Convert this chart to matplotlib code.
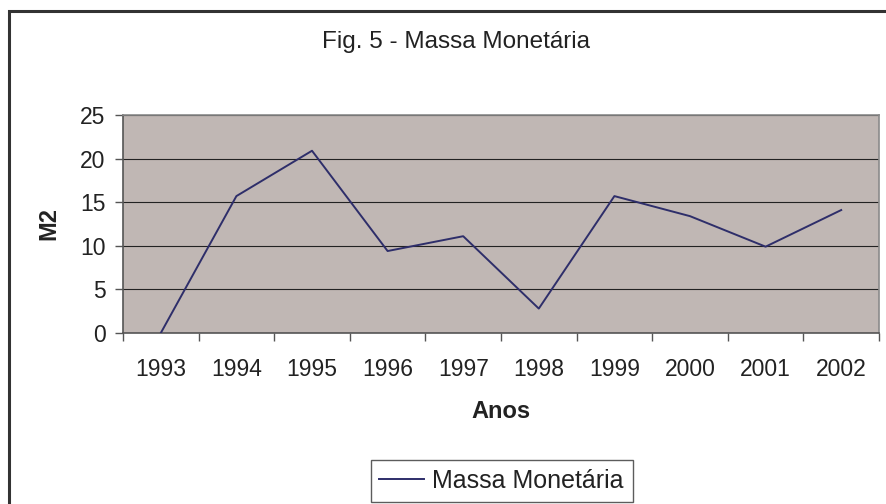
import numpy as np
import matplotlib.pyplot as plt
from matplotlib.patches import Rectangle

plt.rcParams['font.family'] = ['Liberation Sans', 'DejaVu Sans']

anos = ['1993', '1994', '1995', '1996', '1997', '1998', '1999', '2000', '2001', '2002']
m2 = [0.0, 15.7, 20.9, 9.4, 11.1, 2.8, 15.7, 13.4, 9.9, 14.1]

fig = plt.figure(figsize=(8.86, 5.04), dpi=100)
fig.patches.append(Rectangle((9/886, -0.05), 1.0, 1 - 11/504 + 0.05, transform=fig.transFigure,
                             fill=False, edgecolor='#333333', linewidth=2.2, zorder=0))

ax = fig.add_axes([123/886, 1 - 333/504, 756/886, 218/504])
ax.set_facecolor('#C0B7B4')

x = np.arange(len(anos))
ax.plot(x, m2, color='#2E2E6A', linewidth=1.4, label='Massa Monetária', zorder=3)

ax.set_xlim(-0.5, len(anos) - 0.5)
ax.set_ylim(0, 25)
ax.set_yticks([0, 5, 10, 15, 20, 25])
ax.yaxis.grid(True, color='#222222', linewidth=0.8)
ax.set_axisbelow(True)

ax.set_xticks(x)
ax.set_xticklabels(anos)
ax.set_xticks(np.arange(len(anos) + 1) - 0.5, minor=True)
ax.tick_params(axis='x', which='major', length=0, pad=18, labelsize=16.5, labelcolor='#222222')
ax.tick_params(axis='x', which='minor', length=6, color='#555555', width=1)
ax.tick_params(axis='y', length=5.5, width=1, color='#555555', labelsize=16.5, pad=7,
               labelcolor='#222222')

for s in ['top', 'right']:
    ax.spines[s].set_color('#8a8a8a')
    ax.spines[s].set_linewidth(1.2)
for s in ['left', 'bottom']:
    ax.spines[s].set_color('#555555')
    ax.spines[s].set_linewidth(1.2)

ax.set_xlabel('Anos', fontsize=17, fontweight='bold', labelpad=14, color='#222222')
ax.set_ylabel('M2', fontsize=17, fontweight='bold', labelpad=14, color='#222222')

fig.text(456/886, 1 - 42/504, 'Fig. 5 - Massa Monetária', ha='center', va='center',
         fontsize=17.5, color='#222222')

leg = ax.legend(loc='center', bbox_to_anchor=(501.5/886, 1 - 481/504), bbox_transform=fig.transFigure,
                fontsize=18, frameon=True, fancybox=False, handlelength=1.8,
                handletextpad=0.32, borderpad=0.35, labelcolor='#222222')
leg.get_frame().set_edgecolor('#333333')
leg.get_frame().set_linewidth(1.0)

fig.savefig('out.png', dpi=100, facecolor='white')
